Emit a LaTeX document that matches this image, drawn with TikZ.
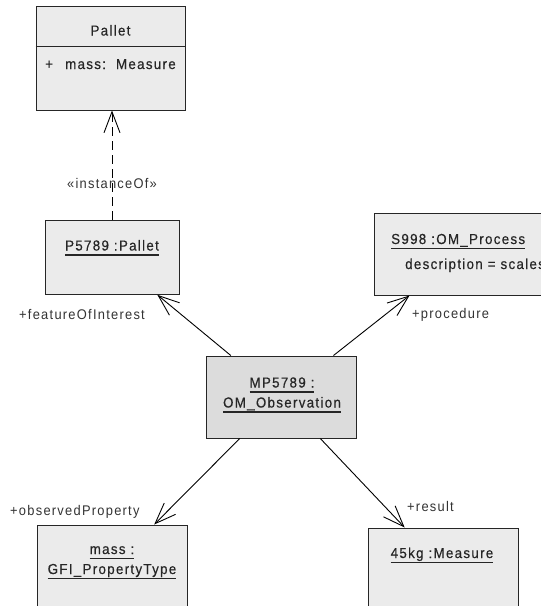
\documentclass[tikz,border=0pt]{standalone}
\usepackage{fontspec}
\setmainfont{Liberation Sans}[LetterSpace=9, FakeStretch=0.92]
\newfontfamily\boxfont{Liberation Sans}[LetterSpace=9, FakeStretch=0.92, FakeBold=0.4]
\usetikzlibrary{arrows.meta}
\definecolor{boxfill}{HTML}{EBEBEB}
\definecolor{mpfill}{HTML}{DCDCDC}
\definecolor{lbl}{HTML}{333333}
\newcommand\ulbox[1]{\setbox0\hbox{#1}\rlap{\rule[-5pt]{\wd0}{1.3pt}}\box0}
\begin{document}
\begin{tikzpicture}[x=1pt,y=-1pt,
  box/.style={draw=black!85, line width=1pt, fill=boxfill, inner sep=0pt},
  txt/.style={inner sep=0pt, font=\boxfont\fontsize{14.5}{16}\selectfont, text=black!85},
  lab/.style={inner sep=0pt, font=\fontsize{14}{16}\selectfont, text=lbl},
  conn/.style={draw=black, line width=0.9pt, -{Straight Barb[length=21pt,width=16pt]}}]
\useasboundingbox (0,0) rectangle (541,606);
\clip (0,0) rectangle (541,606);
% class Pallet
\node[box, minimum width=149pt, minimum height=104pt] (pallet) at (110.5,58) {};
\coordinate (div) at (0,46.5);
\draw[draw=black!85, line width=1pt] (pallet.west |- div) -- (pallet.east |- div);
\node[txt, anchor=base] (palletname) at (110.5,35.5) {Pallet};
\node[txt, anchor=base west] (plus) at (45,69) {+};
\node[txt, anchor=base west] (attr) at (65,69) {mass:\ \ Measure};
% objects
\node[box, minimum width=134pt, minimum height=74pt] (p5789) at (112,257.3) {};
\node[txt, anchor=base] (p5789t) at (112,250.5) {\ulbox{P5789 :Pallet}};
\node[box, minimum width=176pt, minimum height=82pt] (s998) at (462,254) {};
\node[txt, anchor=base west] (s998t) at (391,244) {\ulbox{S998 :OM\_Process}};
\node[txt, anchor=base west] (s998d) at (405,269) {description = scales};
\node[box, fill=mpfill, minimum width=150pt, minimum height=82pt] (mp) at (281,397) {};
\node[txt, anchor=base] (mpa) at (282,387.5) {\ulbox{MP5789 :}};
\node[txt, anchor=base] (mpb) at (282,407.5) {\ulbox{OM\_Observation}};
\node[box, minimum width=150pt, minimum height=84pt] (gfi) at (112,567) {};
\node[txt, anchor=base] (gfia) at (112,554) {\ulbox{mass :}};
\node[txt, anchor=base] (gfib) at (112,574) {\ulbox{GFI\_PropertyType}};
\node[box, minimum width=150pt, minimum height=80pt] (kg) at (443,568) {};
\node[txt, anchor=base] (kgt) at (442,558) {\ulbox{45kg :Measure}};
% connectors
\draw[conn, dash pattern=on 9pt off 5pt] (p5789.north) -- (p5789.north |- pallet.south);
\node[lab, anchor=base] (inst) at (112,188) {«instanceOf»};
\draw[conn] (mp) -- (p5789);
\draw[conn] (mp) -- (s998);
\draw[conn] (mp) -- (gfi);
\draw[conn] (mp) -- (kg);
% role labels
\node[lab, anchor=base west] (foi) at (19,319) {+featureOfInterest};
\node[lab, anchor=base west] (proc) at (412,318) {+procedure};
\node[lab, anchor=base west] (obsp) at (10,515) {+observedProperty};
\node[lab, anchor=base west] (res) at (407,511) {+result};
\end{tikzpicture}
\end{document}
